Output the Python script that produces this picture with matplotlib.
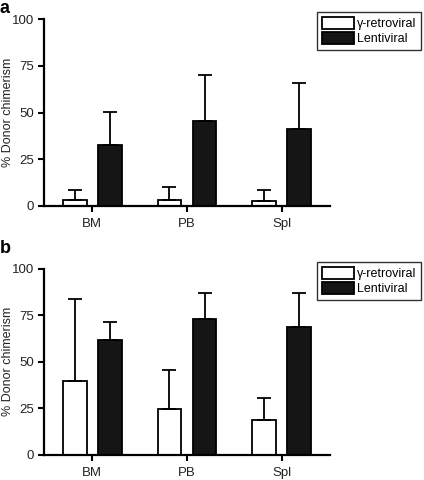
import matplotlib
matplotlib.use("Agg")
import matplotlib.pyplot as plt
import numpy as np

plt.rcParams['font.family'] = ['Liberation Sans', 'DejaVu Sans']

categories = ["BM", "PB", "Spl"]
series_names = ["\u03b3-retroviral", "Lentiviral"]

a_retro = [3.2, 3.2, 2.5]
a_retro_err = [5.4, 6.8, 6.1]
a_lenti = [32.8, 45.3, 41.0]
a_lenti_err = [17.5, 24.9, 24.6]

b_retro = [39.6, 24.6, 18.5]
b_retro_err = [44.2, 20.9, 12.0]
b_lenti = [61.9, 72.9, 68.6]
b_lenti_err = [9.6, 14.3, 18.6]

yticks = [0, 25, 50, 75, 100]

fig = plt.figure(figsize=(4.24, 4.8), dpi=100)

panels = [
    ("a", [0.104, 0.571, 0.674, 0.389], a_retro, a_retro_err, a_lenti, a_lenti_err, 0.975, 0.999),
    ("b", [0.104, 0.053, 0.674, 0.387], b_retro, b_retro_err, b_lenti, b_lenti_err, 0.455, 0.500),
]

txtc = "#222222"
x = np.arange(len(categories))
w = 0.25
off = 0.185
for letter, rect, r, re, l, le, legy, lety in panels:
    ax = fig.add_axes(rect)
    ekw = dict(elinewidth=1.3, capthick=1.3, ecolor="black")
    ax.bar(x - off, r, width=w, color="white", edgecolor="black", linewidth=1.3,
           yerr=[np.zeros(3), re], capsize=4.7, error_kw=ekw, label=series_names[0], zorder=2)
    ax.bar(x + off, l, width=w, color="#151515", edgecolor="black", linewidth=1.3,
           yerr=[np.zeros(3), le], capsize=4.7, error_kw=ekw, label=series_names[1], zorder=2)
    ax.set_xlim(-0.508, 2.508)
    ax.set_ylim(0, 100)
    ax.set_yticks(yticks)
    ax.set_yticklabels([str(t) for t in yticks], fontsize=9.5, color=txtc)
    ax.set_xticks(x)
    ax.set_xticklabels(categories, fontsize=9.5, color=txtc)
    for s in ["top", "right"]:
        ax.spines[s].set_visible(False)
    for s in ["left", "bottom"]:
        ax.spines[s].set_linewidth(1.6)
    ax.tick_params(axis="y", direction="out", length=4, width=1.5, pad=3)
    ax.tick_params(axis="x", direction="out", length=4.5, width=1.5, pad=4.5)
    ax.set_ylabel("% Donor chimerism", fontsize=9, color=txtc)
    ax.yaxis.set_label_coords(-0.106, 0.5)
    fig.text(0.0, lety, letter, fontsize=13, fontweight="bold", va="top", ha="left")
    leg = fig.legend(handles=ax.patches[:1] + ax.patches[3:4], labels=series_names,
                     loc="upper right", bbox_to_anchor=(0.993, legy),
                     fontsize=9, frameon=True, fancybox=False, edgecolor="black",
                     handlelength=2.5, handleheight=1.1, handletextpad=0.25,
                     borderpad=0.4, labelspacing=0.15, borderaxespad=0)
    leg.get_frame().set_linewidth(1.0)

fig.savefig("out.png", dpi=100)
